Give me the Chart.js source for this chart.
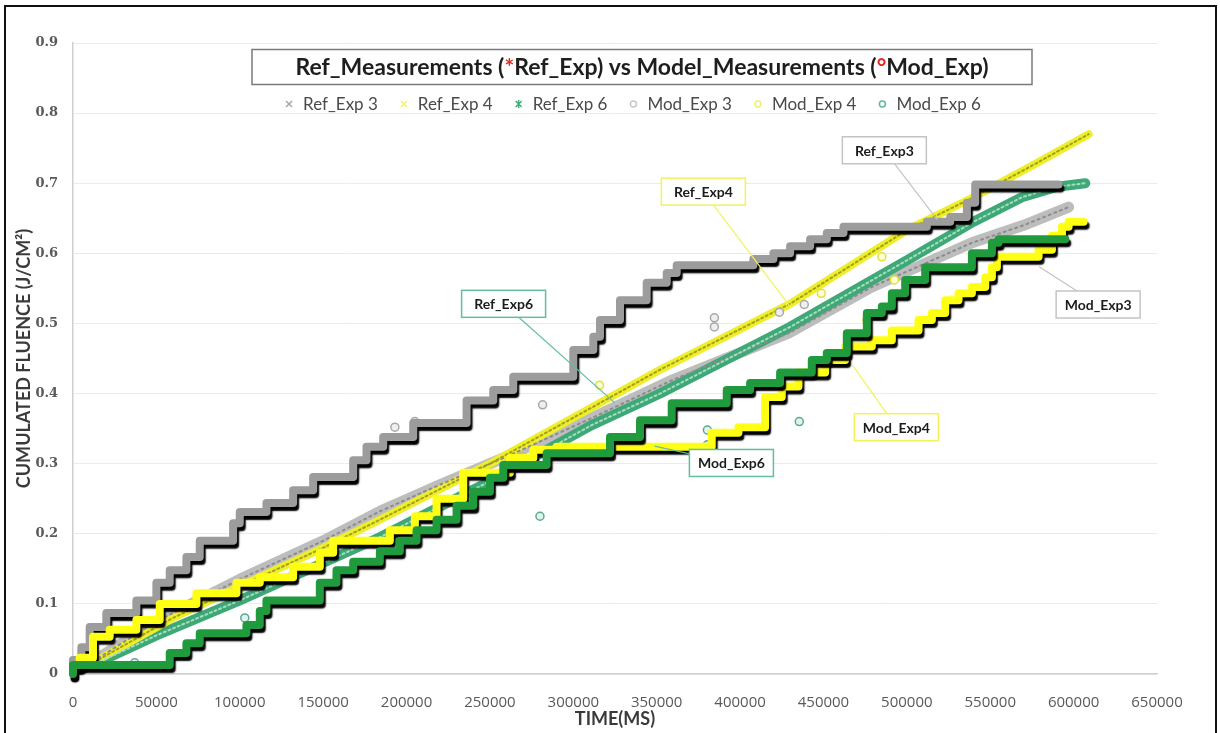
<!DOCTYPE html>
<html>
<head>
<meta charset="utf-8">
<script src="https://cdn.jsdelivr.net/npm/chart.js@4.4.1/dist/chart.umd.min.js"></script>
<style>
  html, body { margin: 0; padding: 0; background: #fff; }
  #wrap { position: relative; width: 1220px; height: 733px; overflow: hidden; }
  #frame { position: absolute; left: 4px; top: 5px; width: 1213px; height: 800px; border: 2px solid #111; box-sizing: border-box; pointer-events: none; }
  canvas { position: absolute; left: 0; top: 0; }
</style>
</head>
<body>
<div id="wrap">
  <canvas id="chart" width="1220" height="733"></canvas>
  <div id="frame"></div>
</div>
<script>
// axis ticks
const xTickValues = [0, 50000, 100000, 150000, 200000, 250000, 300000, 350000, 400000, 450000, 500000, 550000, 600000, 650000]
const xTickLabels = ['0', '50000', '100000', '150000', '200000', '250000', '300000', '350000', '400000', '450000', '500000', '550000', '600000', '650000']
const yTickValues = [0, 0.1, 0.2, 0.3, 0.4, 0.5, 0.6, 0.7, 0.8, 0.9]
const yTickLabels = ['0', '0.1', '0.2', '0.3', '0.4', '0.5', '0.6', '0.7', '0.8', '0.9']

// legend order, as in the picture
const seriesNames = ['Ref_Exp 3', 'Ref_Exp 4', 'Ref_Exp 6', 'Mod_Exp 3', 'Mod_Exp 4', 'Mod_Exp 6']

// [time ms, cumulated fluence J/cm2]
// Ref runs (bands of x markers)
const refExp3 = [[0, 0], [20000, 0.03], [50000, 0.075], [100000, 0.135], [150000, 0.19], [184000, 0.232], [220000, 0.27], [260000, 0.31], [311000, 0.365], [360000, 0.42], [429000, 0.486], [479000, 0.552], [539000, 0.615], [570000, 0.64], [597000, 0.666]]
const refExp4 = [[0, 0], [30000, 0.04], [60000, 0.08], [100000, 0.125], [150000, 0.18], [184000, 0.22], [250000, 0.3], [311000, 0.38], [352000, 0.434], [430000, 0.528], [500000, 0.633], [540000, 0.68], [575000, 0.725], [609000, 0.77]]
const refExp6 = [[0, 0], [50000, 0.055], [100000, 0.105], [184000, 0.195], [250000, 0.275], [311000, 0.355], [352000, 0.4], [430000, 0.495], [500000, 0.59], [540000, 0.645], [569000, 0.68], [590000, 0.695], [607000, 0.7]]

// Mod runs (stepped traces, each point = start of a level)
const modExp3Steps = [[0, 0], [5000, 0.02], [10000, 0.038], [20000, 0.067], [38000, 0.087], [50000, 0.105], [58000, 0.13], [68000, 0.148], [76000, 0.167], [96000, 0.19], [100000, 0.215], [116000, 0.231], [132000, 0.244], [144000, 0.262], [168000, 0.281], [176000, 0.305], [186000, 0.324], [204000, 0.338], [236000, 0.358], [252000, 0.39], [264000, 0.405], [300000, 0.424], [312000, 0.462], [316000, 0.481], [328000, 0.505], [344000, 0.533], [356000, 0.558], [362000, 0.572], [408000, 0.583], [420000, 0.592], [430000, 0.6], [442000, 0.61], [452000, 0.62], [462000, 0.629], [512000, 0.638], [526000, 0.645], [536000, 0.652], [541000, 0.672], [549000, 0.698], [591000, 0.698]]
const modExp4Steps = [[0, 0], [4000, 0.01], [12000, 0.023], [22000, 0.053], [38000, 0.063], [52000, 0.077], [74000, 0.1], [98000, 0.115], [112000, 0.13], [132000, 0.138], [148000, 0.153], [156000, 0.173], [190000, 0.19], [205000, 0.205], [218000, 0.225], [234000, 0.25], [262000, 0.287], [276000, 0.308], [290000, 0.32], [383000, 0.324], [399000, 0.344], [415000, 0.352], [425000, 0.395], [435000, 0.41], [451000, 0.43], [463000, 0.448], [479000, 0.467], [491000, 0.476], [507000, 0.49], [515000, 0.505], [523000, 0.515], [531000, 0.533], [539000, 0.543], [547000, 0.552], [551000, 0.566], [554000, 0.58], [579000, 0.595], [587000, 0.605], [593000, 0.625], [597000, 0.638], [601000, 0.645], [606000, 0.645]]
const modExp6Steps = [[0, 0], [58000, 0.013], [68000, 0.03], [76000, 0.044], [104000, 0.058], [112000, 0.07], [116000, 0.09], [148000, 0.105], [158000, 0.13], [168000, 0.148], [184000, 0.16], [196000, 0.175], [206000, 0.19], [218000, 0.205], [230000, 0.22], [240000, 0.24], [250000, 0.26], [258000, 0.28], [284000, 0.298], [322000, 0.315], [340000, 0.338], [359000, 0.362], [392000, 0.386], [406000, 0.405], [424000, 0.415], [443000, 0.43], [452000, 0.448], [464000, 0.458], [476000, 0.486], [485000, 0.515], [491000, 0.524], [499000, 0.543], [511000, 0.562], [539000, 0.58], [551000, 0.6], [555000, 0.615], [559000, 0.62], [595000, 0.62]]

// Mod stray points off the steps
const modExp3Stray = [[193000, 0.352], [205000, 0.36], [281600, 0.384], [384600, 0.508], [384600, 0.495], [423600, 0.516], [438500, 0.527]]
const modExp4Stray = [[315700, 0.412], [448700, 0.543], [476000, 0.505], [485000, 0.595], [492500, 0.562]]
const modExp6Stray = [[37000, 0.016], [103000, 0.08], [280000, 0.225], [380400, 0.348], [380400, 0.327], [435500, 0.36]]

// callout labels: box anchor and the point it marks, in data units
const callouts = [
    { text: 'Ref_Exp3', boxTime: 486500, boxFluence: 0.747, targetTime: 518200, targetFluence: 0.648, tone: 'gray' },
    { text: 'Ref_Exp4', boxTime: 378000, boxFluence: 0.688, targetTime: 430700, targetFluence: 0.522, tone: 'yellow' },
    { text: 'Ref_Exp6', boxTime: 258200, boxFluence: 0.528, targetTime: 324700, targetFluence: 0.387, tone: 'teal' },
    { text: 'Mod_Exp3', boxTime: 614700, boxFluence: 0.527, targetTime: 579300, targetFluence: 0.581, tone: 'gray' },
    { text: 'Mod_Exp4', boxTime: 493700, boxFluence: 0.352, targetTime: 467300, targetFluence: 0.441, tone: 'yellow' },
    { text: 'Mod_Exp6', boxTime: 394800, boxFluence: 0.301, targetTime: 348700, targetFluence: 0.325, tone: 'teal' }
]
const calloutColours = { gray: '#c4c4c4', yellow: '#f2f25a', teal: '#62bea2' }

const toXY = (pts) => pts.map(([x, y]) => ({ x, y }))

const stepStyle = {
    showLine: true, stepped: 'after', borderWidth: 8, pointRadius: 0,
    borderCapStyle: 'round', borderJoinStyle: 'round', clip: false, shadow: true
}
const bandStyle = { showLine: true, pointRadius: 0, borderJoinStyle: 'round', borderCapStyle: 'round' }
const strayStyle = { showLine: false, pointRadius: 4, pointBorderWidth: 1.5 }

// lower order = drawn on top
const datasets = [
    { label: 'Mod_Exp 6', data: toXY(modExp6Steps), borderColor: '#1f9b3e', order: 1, legendMarker: 'circle', legendColour: '#5fb8a0', ...stepStyle },
    { label: 'Mod_Exp 4', data: toXY(modExp4Steps), borderColor: '#ffff14', order: 2, legendMarker: 'circle', legendColour: '#f0f070', ...stepStyle },
    { label: 'Mod_Exp 3', data: toXY(modExp3Steps), borderColor: '#9c9c9c', order: 3, legendMarker: 'circle', legendColour: '#c8c8c8', ...stepStyle },

    { label: 'Mod_Exp 3 stray', data: toXY(modExp3Stray), pointBackgroundColor: '#efefef', pointBorderColor: '#a8a8a8', order: 4, ...strayStyle },
    { label: 'Mod_Exp 4 stray', data: toXY(modExp4Stray), pointBackgroundColor: '#ffffd0', pointBorderColor: '#e0e040', order: 5, ...strayStyle },
    { label: 'Mod_Exp 6 stray', data: toXY(modExp6Stray), pointBackgroundColor: '#e2f3ee', pointBorderColor: '#5aa894', order: 6, ...strayStyle },

    // marker texture drawn over the bands
    { label: 'Ref_Exp 4 tex', data: toXY(refExp4), borderColor: '#a4a214', borderWidth: 2, borderDash: [2, 3], order: 7, ...bandStyle },
    { label: 'Ref_Exp 6 tex', data: toXY(refExp6), borderColor: '#a6dcc0', borderWidth: 2, borderDash: [2, 3], order: 8, ...bandStyle },
    { label: 'Ref_Exp 3 tex', data: toXY(refExp3), borderColor: '#8c8c8c', borderWidth: 2, borderDash: [2, 4], order: 9, ...bandStyle },

    { label: 'Ref_Exp 4', data: toXY(refExp4), borderColor: '#eeee2c', borderWidth: 8, order: 10, legendMarker: 'cross', legendColour: '#f2f26a', ...bandStyle },
    { label: 'Ref_Exp 6', data: toXY(refExp6), borderColor: '#3ea877', borderWidth: 10, order: 11, legendMarker: 'star', legendColour: '#3fae7a', ...bandStyle },
    { label: 'Ref_Exp 3', data: toXY(refExp3), borderColor: '#bdbdbd', borderWidth: 11, order: 12, legendMarker: 'cross', legendColour: '#a6a6a6', ...bandStyle }
]

// black drop shadow under the stepped traces
const shadowPlugin = {
    id: 'stepShadow',
    beforeDatasetDraw(chart, args) {
        if (!chart.data.datasets[args.index].shadow) return
        const ctx = chart.ctx
        ctx.save()
        ctx.shadowColor = 'rgba(0,0,0,1)'
        ctx.shadowOffsetX = 2
        ctx.shadowOffsetY = 4
        ctx.shadowBlur = 1.5
    },
    afterDatasetDraw(chart, args) {
        if (chart.data.datasets[args.index].shadow) chart.ctx.restore()
    }
}

const calloutPlugin = {
    id: 'callouts',
    afterDatasetsDraw(chart) {
        const { ctx, scales } = chart
        ctx.save()
        ctx.font = 'bold 14px Lato'
        ctx.textAlign = 'center'
        ctx.textBaseline = 'middle'
        callouts.forEach((c) => {
            const bx = scales.x.getPixelForValue(c.boxTime)
            const by = scales.y.getPixelForValue(c.boxFluence)
            const tx = scales.x.getPixelForValue(c.targetTime)
            const ty = scales.y.getPixelForValue(c.targetFluence)
            const col = calloutColours[c.tone]
            ctx.strokeStyle = col
            ctx.lineWidth = 1.2
            ctx.beginPath()
            ctx.moveTo(bx, by)
            ctx.lineTo(tx, ty)
            ctx.stroke()
            const w = 84, h = 27
            ctx.fillStyle = '#fff'
            ctx.fillRect(bx - w / 2, by - h / 2, w, h)
            ctx.lineWidth = 1.5
            ctx.strokeRect(bx - w / 2, by - h / 2, w, h)
            ctx.fillStyle = '#1c1c1c'
            ctx.fillText(c.text, bx, by + 1)
        })
        ctx.restore()
    }
}

function drawMarker(ctx, kind, x, y, colour) {
    ctx.strokeStyle = colour
    ctx.lineWidth = 1.5
    ctx.beginPath()
    if (kind === 'circle') {
        ctx.arc(x, y, 3, 0, Math.PI * 2)
    } else {
        ctx.moveTo(x - 3, y - 3); ctx.lineTo(x + 3, y + 3)
        ctx.moveTo(x + 3, y - 3); ctx.lineTo(x - 3, y + 3)
        if (kind === 'star') { ctx.moveTo(x, y - 4); ctx.lineTo(x, y + 4) }
    }
    ctx.stroke()
}

// title box and legend sit inside the plot, like the Excel original
const headerPlugin = {
    id: 'header',
    afterDraw(chart) {
        const ctx = chart.ctx
        ctx.save()
        const parts = [
            ['Ref_Measurements (', '#1e1e1e'], ['*', '#e3261f'], ['Ref_Exp) vs Model_Measurements (', '#1e1e1e'],
            ['°', '#e3261f'], ['Mod_Exp)', '#1e1e1e']
        ]
        ctx.font = 'bold 23px Lato'
        ctx.textBaseline = 'middle'
        const widths = parts.map((p) => ctx.measureText(p[0]).width)
        const total = widths.reduce((a, b) => a + b, 0)
        const cx = 642, cy = 67, boxW = 780, boxH = 35
        ctx.fillStyle = '#fff'
        ctx.fillRect(cx - boxW / 2, cy - boxH / 2, boxW, boxH)
        ctx.strokeStyle = '#7a7a7a'
        ctx.lineWidth = 1.5
        ctx.strokeRect(cx - boxW / 2, cy - boxH / 2, boxW, boxH)
        let x = cx - total / 2
        parts.forEach((p, i) => {
            ctx.fillStyle = p[1]
            ctx.fillText(p[0], x, cy + 1)
            x += widths[i]
        })

        // legend row
        ctx.font = '17px Lato'
        const items = seriesNames.map((name) => chart.data.datasets.find((d) => d.label === name))
        const textW = items.map((d) => ctx.measureText(d.label).width)
        const markGap = 14, itemGap = 26
        const rowW = textW.reduce((a, b) => a + b, 0) + items.length * markGap + (items.length - 1) * itemGap
        let lx = 635 - rowW / 2
        const ly = 104
        items.forEach((d, i) => {
            drawMarker(ctx, d.legendMarker, lx, ly, d.legendColour)
            ctx.fillStyle = '#4a4a4a'
            ctx.fillText(d.label, lx + markGap, ly + 1)
            lx += markGap + textW[i] + itemGap
        })
        ctx.restore()
    }
}

const chart = new Chart(document.getElementById('chart'), {
    type: 'scatter',
    data: { datasets },
    plugins: [shadowPlugin, calloutPlugin, headerPlugin],
    options: {
        responsive: false,
        animation: false,
        layout: { padding: { left: 0, top: 43, right: 63, bottom: 0 } },
        plugins: { legend: { display: false }, tooltip: { enabled: false } },
        scales: {
            x: {
                type: 'linear', min: 0, max: 650000,
                afterBuildTicks: (s) => { s.ticks = xTickValues.map((v) => ({ value: v })) },
                afterFit: (s) => { s.height = 59 },
                grid: { display: false },
                border: { display: true, color: '#d0d0d0', width: 1.5 },
                ticks: {
                    callback: (v, i) => xTickLabels[i],
                    color: '#595959', font: { family: 'Open Sans', size: 15 },
                    padding: 12, maxRotation: 0, autoSkip: false
                },
                title: {
                    display: true, text: 'TIME(MS)', color: '#3a3a3a',
                    font: { family: 'Lato', size: 18, weight: 'bold' }, padding: { top: 0, bottom: 3 }
                }
            },
            y: {
                type: 'linear', min: 0, max: 0.9,
                afterBuildTicks: (s) => { s.ticks = yTickValues.map((v) => ({ value: v })) },
                afterFit: (s) => { s.width = 73 },
                grid: { color: '#ebebeb', lineWidth: 1, drawTicks: false },
                border: { display: true, color: '#d0d0d0', width: 1.5 },
                ticks: {
                    callback: (v, i) => yTickLabels[i],
                    color: '#5a5a5a', font: { family: 'DejaVu Serif', size: 13, weight: 'bold' }, padding: 15
                },
                title: {
                    display: true, text: 'CUMULATED FLUENCE (J/CM²)', color: '#3a3a3a',
                    font: { family: 'Lato', size: 18, weight: 'bold' }, padding: { top: 13, bottom: 0 }
                }
            }
        }
    }
})
</script>
</body>
</html>
